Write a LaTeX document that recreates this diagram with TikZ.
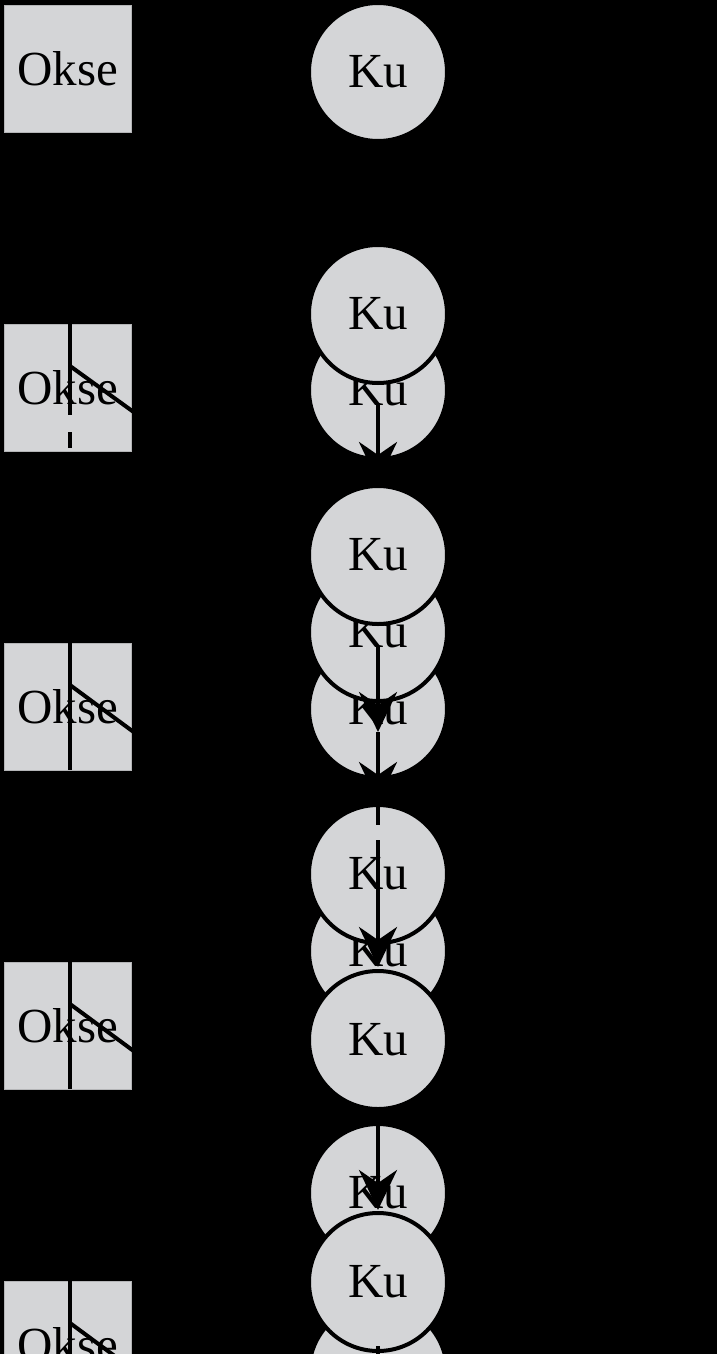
\documentclass[tikz,border=0pt]{standalone}
\usepackage{fontspec}
\setmainfont{Liberation Serif}
\usetikzlibrary{arrows.meta}
\definecolor{nodegray}{RGB}{212,213,215}
\tikzset{
  oksebox/.style={rectangle, fill=nodegray, draw=nodegray!85!black, line width=0.8pt,
    minimum width=127pt, minimum height=127pt, inner sep=0pt,
    font=\fontsize{49}{55}\selectfont},
  kucirc/.style={circle, fill=nodegray, draw=black, line width=4pt,
    minimum size=138pt, inner sep=0pt, font=\fontsize{49}{55}\selectfont},
  mark line/.style={draw=black, line width=4pt},
  flow/.style={draw=black, line width=4pt, -{Stealth[length=40pt,width=38pt]}},
}
\begin{document}
\begin{tikzpicture}[x=1pt,y=-1pt]
\fill[black] (0,0) rectangle (717,1354);
\clip (0,0) rectangle (717,1354);
% Okse boxes
\node[oksebox] (o1) at (67.5,68.5) {Okse};
\node[oksebox] (o2) at (67.5,387.5) {Okse};
\node[oksebox] (o3) at (67.5,706.5) {Okse};
\node[oksebox] (o4) at (67.5,1025.5) {Okse};
\node[oksebox] (o5) at (67.5,1344.5) {Okse};
% marks in the boxes
\coordinate (v2a) at (70,324); \coordinate (v2b) at (70,415);
\coordinate (v2c) at (70,432); \coordinate (v2d) at (70,448);
\coordinate (d2a) at (70,366); \coordinate (d2b) at (135,413);
\path[mark line] (v2a) -- (v2b);
\path[mark line] (v2c) -- (v2d);
\path[mark line] (d2a) -- (d2b);
\coordinate (v3a) at (70,643); \coordinate (v3b) at (70,770);
\coordinate (d3a) at (70,685); \coordinate (d3b) at (135,733);
\path[mark line] (v3a) -- (v3b);
\path[mark line] (d3a) -- (d3b);
\coordinate (v4a) at (70,962); \coordinate (v4b) at (70,1089);
\coordinate (d4a) at (70,1004); \coordinate (d4b) at (135,1052);
\path[mark line] (v4a) -- (v4b);
\path[mark line] (d4a) -- (d4b);
\coordinate (v5a) at (70,1281); \coordinate (v5b) at (70,1408);
\coordinate (d5a) at (70,1323); \coordinate (d5b) at (135,1371);
\path[mark line] (v5a) -- (v5b);
\path[mark line] (d5a) -- (d5b);
% Ku circles
\node[kucirc] (k1) at (378,72) {Ku};
\node[kucirc] (k2b) at (378,390) {Ku};
\node[kucirc] (k2a) at (378,314) {Ku};
\node[kucirc] (k3c) at (378,709) {Ku};
\node[kucirc] (k3b) at (378,632) {Ku};
\node[kucirc] (k3a) at (378,555) {Ku};
\node[kucirc] (k4b) at (378,951) {Ku};
\node[kucirc] (k4a) at (378,874) {Ku};
\node[kucirc] (k4c) at (378,1040) {Ku};
\node[kucirc] (k5a) at (378,1193) {Ku};
\node[kucirc] (k5c) at (378,1372) {Ku};
\node[kucirc] (k5b) at (378,1282) {Ku};
% connectors
\coordinate (a2s) at (378,403); \coordinate (a2e) at (378,482);
\path[flow] (a2s) -- (a2e);
\coordinate (a3s) at (378,647); \coordinate (a3m) at (378,732); \coordinate (a3e) at (378,802);
\path[flow] (a3s) -- (a3m);
\path[flow] (a3m) -- (a3e);
\coordinate (a4d1) at (378,807); \coordinate (a4d2) at (378,825);
\coordinate (a4s) at (378,840); \coordinate (a4e) at (378,967);
\path[mark line] (a4d1) -- (a4d2);
\path[flow] (a4s) -- (a4e);
\coordinate (a5s) at (378,1123); \coordinate (a5e) at (378,1210);
\path[flow] (a5s) -- (a5e);
\coordinate (a6s) at (378,1346); \coordinate (a6e) at (378,1420);
\path[mark line] (a6s) -- (a6e);
\end{tikzpicture}
\end{document}
